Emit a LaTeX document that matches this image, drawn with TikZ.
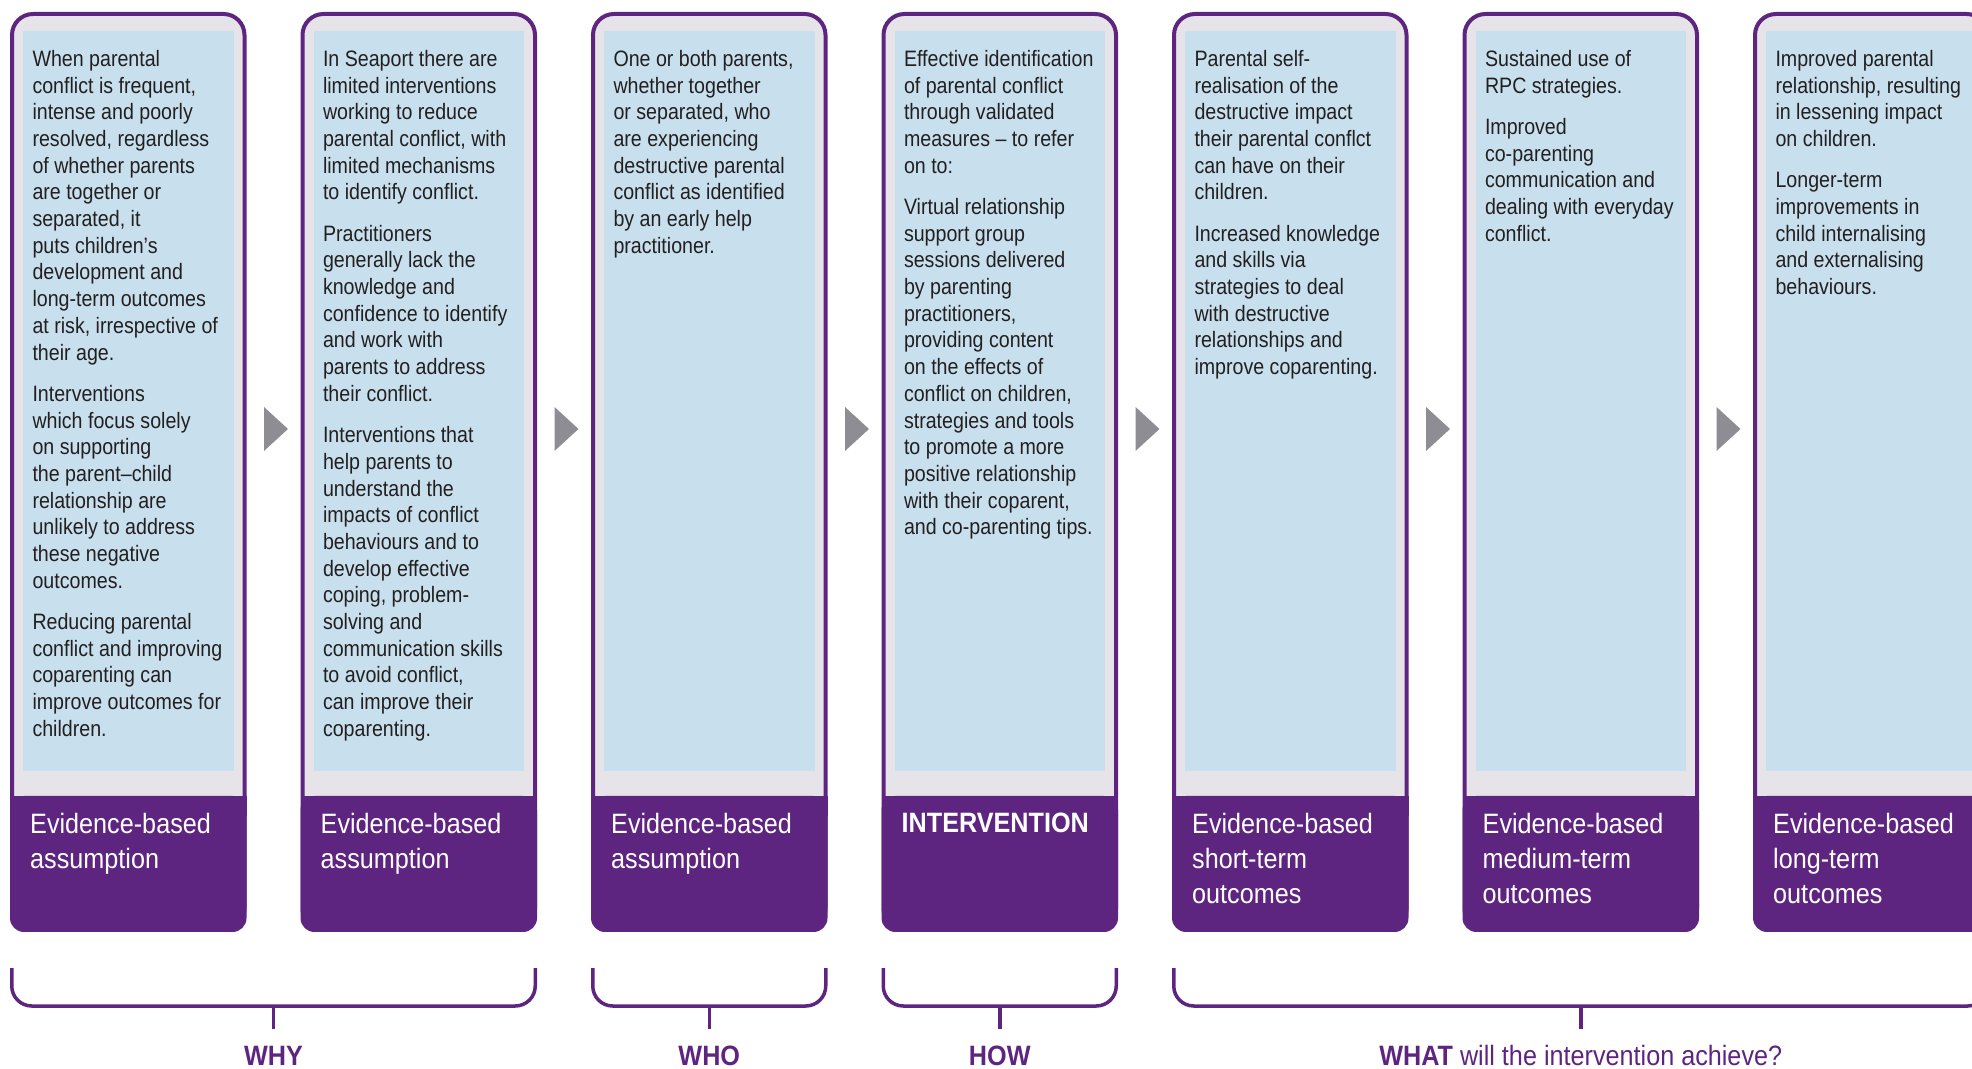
\documentclass[tikz,border=0pt]{standalone}
\usepackage{fontspec}
\setmainfont{Liberation Sans}[FakeStretch=0.88]
\newfontfamily\headfont{Liberation Sans}[FakeStretch=0.9]
\usetikzlibrary{calc}

\definecolor{rpcpurple}{RGB}{94,37,128}
\definecolor{framegray}{RGB}{230,228,232}
\definecolor{panelblue}{RGB}{200,224,237}
\definecolor{arrowgray}{RGB}{142,141,147}
\definecolor{bodytext}{RGB}{35,31,32}

\begin{document}
\begin{tikzpicture}[x=1pt, y=1pt,
    frame/.style={draw=rpcpurple, line width=4pt, fill=framegray, rounded corners=21pt,
      minimum width=232.5pt, minimum height=916pt, anchor=north west, inner sep=0pt},
    band/.style={fill=rpcpurple, rounded corners=14pt, minimum width=236.5pt,
      minimum height=136pt, anchor=south west, inner sep=0pt, outer sep=0pt},
    panel/.style={fill=panelblue},
    tri/.style={fill=arrowgray},
    body/.style={anchor=north west, inner sep=0pt, align=left, text=bodytext,
      font=\fontsize{22.3}{26.7}\selectfont},
    head/.style={anchor=north west, inner sep=0pt, align=left, text=white,
      font=\headfont\fontsize{28}{35}\selectfont},
    brace/.style={draw=rpcpurple, line width=3.5pt, rounded corners=20pt},
    lbl/.style={anchor=base, inner sep=0pt, text=rpcpurple,
      font=\headfont\fontsize{28}{32}\selectfont}]
    \useasboundingbox (0,0) rectangle (1972,1068);

    % columns: frame, blue panel, purple band
    \foreach \i in {1,...,7} {
        \pgfmathsetmacro{\colx}{10+290.5*(\i-1)}
        \node[frame] (c\i) at (\colx,1056) {};
        \fill[panel] (\colx+13,1037) rectangle (\colx+223.5,297);
        \node[band] (b\i) at (\colx,136) {};
        \fill[rpcpurple] (b\i.north west) rectangle ([yshift=-20pt]b\i.north east);
    }
    % grey arrows between columns
    \foreach \i in {1,...,6} {
        \pgfmathsetmacro{\colx}{10+290.5*(\i-1)}
        \fill[tri] (\colx+254,661) -- (\colx+278,639) -- (\colx+254,617) -- cycle;
    }

    % texts in the panels
    \node[body] (t1) at ([xshift=22.3pt, yshift=-38pt]c1.north west)
        {When parental\\conflict is frequent,\\intense and poorly\\resolved, regardless\\of whether parents\\are together or\\separated, it\\puts children’s\\development and\\long-term outcomes\\at risk, irrespective of\\their age.\\[14.6pt]
         Interventions\\which focus solely\\on supporting\\the parent--child\\relationship are\\unlikely to address\\these negative\\outcomes.\\[14.6pt]
         Reducing parental\\conflict and improving\\coparenting can\\improve outcomes for\\children.};
    \node[body] (t2) at ([xshift=22.3pt, yshift=-38pt]c2.north west)
        {In Seaport there are\\limited interventions\\working to reduce\\parental conflict, with\\limited mechanisms\\to identify conflict.\\[14.6pt]
         Practitioners\\generally lack the\\knowledge and\\confidence to identify\\and work with\\parents to address\\their conflict.\\[14.6pt]
         Interventions that\\help parents to\\understand the\\impacts of conflict\\behaviours and to\\develop effective\\coping, problem-\\solving and\\communication skills\\to avoid conflict,\\can improve their\\coparenting.};
    \node[body] (t3) at ([xshift=22.3pt, yshift=-38pt]c3.north west)
        {One or both parents,\\whether together\\or separated, who\\are experiencing\\destructive parental\\conflict as identified\\by an early help\\practitioner.};
    \node[body] (t4) at ([xshift=22.3pt, yshift=-38pt]c4.north west)
        {Effective identification\\of parental conflict\\through validated\\measures -- to refer\\on to:\\[14.6pt]
         Virtual relationship\\support group\\sessions delivered\\by parenting\\practitioners,\\providing content\\on the effects of\\conflict on children,\\strategies and tools\\to promote a more\\positive relationship\\with their coparent,\\and co-parenting tips.};
    \node[body] (t5) at ([xshift=22.3pt, yshift=-38pt]c5.north west)
        {Parental self-\\realisation of the\\destructive impact\\their parental conflct\\can have on their\\children.\\[14.6pt]
         Increased knowledge\\and skills via\\strategies to deal\\with destructive\\relationships and\\improve coparenting.};
    \node[body] (t6) at ([xshift=22.3pt, yshift=-38pt]c6.north west)
        {Sustained use of\\RPC strategies.\\[14.6pt]
         Improved\\co-parenting\\communication and\\dealing with everyday\\conflict.};
    \node[body] (t7) at ([xshift=22.3pt, yshift=-38pt]c7.north west)
        {Improved parental\\relationship, resulting\\in lessening impact\\on children.\\[14.6pt]
         Longer-term\\improvements in\\child internalising\\and externalising\\behaviours.};

    % headings in the purple bands
    \node[head] (h1) at ([xshift=20pt, yshift=-17pt]b1.north west) {Evidence-based\\assumption};
    \node[head] (h2) at ([xshift=20pt, yshift=-17pt]b2.north west) {Evidence-based\\assumption};
    \node[head] (h3) at ([xshift=20pt, yshift=-17pt]b3.north west) {Evidence-based\\assumption};
    \node[head] (h4) at ([xshift=20pt, yshift=-17pt]b4.north west) {\bfseries INTERVENTION};
    \node[head] (h5) at ([xshift=20pt, yshift=-17pt]b5.north west) {Evidence-based\\short-term\\outcomes};
    \node[head] (h6) at ([xshift=20pt, yshift=-17pt]b6.north west) {Evidence-based\\medium-term\\outcomes};
    \node[head] (h7) at ([xshift=20pt, yshift=-17pt]b7.north west) {Evidence-based\\long-term\\outcomes};

    % brackets underneath
    \coordinate (why) at ($(b1.south west)!0.5!(b2.south east)$);
    \draw[brace] ($(b1.south west)+(1.75,-36)$) |- ($(b2.south east)+(-1.75,-74)$) -- ($(b2.south east)+(-1.75,-36)$);
    \draw[brace] ($(why)+(0,-74)$) -- ++(0,-23);
    \node[lbl] (whylbl) at ($(why)+(0,-133)$) {\bfseries WHY};

    \coordinate (who) at ($(b3.south west)!0.5!(b3.south east)$);
    \draw[brace] ($(b3.south west)+(1.75,-36)$) |- ($(b3.south east)+(-1.75,-74)$) -- ($(b3.south east)+(-1.75,-36)$);
    \draw[brace] ($(who)+(0,-74)$) -- ++(0,-23);
    \node[lbl] (wholbl) at ($(who)+(0,-133)$) {\bfseries WHO};

    \coordinate (how) at ($(b4.south west)!0.5!(b4.south east)$);
    \draw[brace] ($(b4.south west)+(1.75,-36)$) |- ($(b4.south east)+(-1.75,-74)$) -- ($(b4.south east)+(-1.75,-36)$);
    \draw[brace] ($(how)+(0,-74)$) -- ++(0,-23);
    \node[lbl] (howlbl) at ($(how)+(0,-133)$) {\bfseries HOW};

    \coordinate (what) at ($(b5.south west)!0.5!(b7.south east)$);
    \draw[brace] ($(b5.south west)+(1.75,-36)$) |- ($(b7.south east)+(-1.75,-74)$) -- ($(b7.south east)+(-1.75,-36)$);
    \draw[brace] ($(what)+(0,-74)$) -- ++(0,-23);
    \node[lbl] (whatlbl) at ($(what)+(0,-133)$) {\textbf{WHAT} will the intervention achieve?};
\end{tikzpicture}
\end{document}
